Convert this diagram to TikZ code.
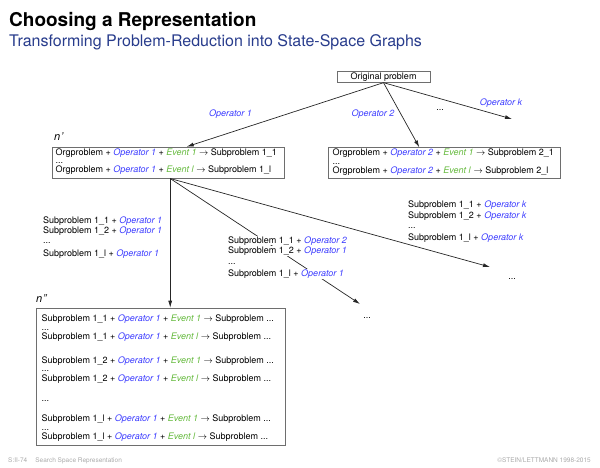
\documentclass[tikz,border=0pt]{standalone}
\usepackage{fontspec}
\setmainfont{TeX Gyre Heros}
\usetikzlibrary{arrows.meta,calc}
\definecolor{opblue}{RGB}{60,60,255}
\definecolor{evgreen}{RGB}{100,185,60}
\definecolor{subblue}{RGB}{40,60,140}
\definecolor{boxgray}{RGB}{110,110,110}
\definecolor{footgray}{RGB}{170,170,170}
\newcommand{\opr}[1]{\textcolor{opblue}{\textit{Operator #1}}}
\newcommand{\evt}[1]{\textcolor{evgreen}{\textit{Event #1}}}
\newcommand{\toarr}{$\rightarrow$}
\begin{document}
\begin{tikzpicture}[x=1pt,y=-1pt,
  every node/.style={font=\fontsize{9}{10}\selectfont, inner sep=0pt},
  txt/.style={anchor=base west, inner xsep=0.5pt, inner ysep=0pt},
  txtw/.style={txt, fill=white, inner ysep=0.5pt},
  box/.style={draw=boxgray, line width=0.8pt, anchor=north west, inner sep=0pt},
  arr/.style={draw=black!85, line width=0.7pt, -{Latex[length=7pt,width=4pt]}},
  oplabel/.style={anchor=base, text=opblue, font=\fontsize{9}{10}\selectfont\itshape}
]
\useasboundingbox (0,0) rectangle (600,467);

% titles
\node[anchor=base west, font=\fontsize{19}{22}\selectfont\bfseries] (title) at (9,26) {Choosing a Representation};
\node[anchor=base west, font=\fontsize{16}{19}\selectfont, text=subblue] (subtitle) at (9,46) {Transforming Problem-Reduction into State-Space Graphs};

% boxes
\node[box, anchor=center, minimum width=93pt, minimum height=10.5pt] (orig) at (383.5,77) {Original problem};
\node[box, minimum width=232.6pt, minimum height=31pt] (np) at (51.7,146.7) {};
\node[box, minimum width=231.7pt, minimum height=31pt] (bb) at (328.3,147.3) {};
\node[box, minimum width=249pt, minimum height=137.3pt] (npp) at (36,307.7) {};

% coordinates
\coordinate (ek) at (512,119);
\coordinate (s) at ($(np.south west)+(118.5,0)$);
\coordinate (em) at (360,304);
\coordinate (er) at (490,267);

% connectors
\draw[arr] (orig.south) -- ($(np.north west)+(135,0)$);
\draw[arr] (orig.south) -- ($(bb.north west)+(91,0)$);
\draw[arr] (orig.south) -- (ek);
\draw[arr] (s) -- (s |- npp.north);
\draw[arr] (s) -- (em);
\draw[arr] (s) -- (er);

% operator labels
\node[oplabel] (l1) at (230.5,116.5) {Operator 1};
\node[oplabel] (l2) at (373,116.5) {Operator 2};
\node[oplabel] (lk) at (501,105) {Operator k};
\node[anchor=base] (ldots) at (440,110) {...};

% n' labels
\node[anchor=base west, font=\fontsize{11}{12}\selectfont\itshape] (nplab) at (54,140) {n\kern0.5pt'};
\node[anchor=base west, font=\fontsize{11}{12}\selectfont\itshape] (npplab) at (36,302) {n\kern0.5pt''};

% n' box text
\node[txt] (a1) at (55,155) {Orgproblem + \opr{1} + \evt{1} \toarr{} Subproblem 1\_1};
\node[txt] (a2) at (55,163.5) {...};
\node[txt] (a3) at (55,172.5) {Orgproblem + \opr{1} + \evt{l} \toarr{} Subproblem 1\_l};

% second box text
\node[txt] (b1) at (332,155.5) {Orgproblem + \opr{2} + \evt{1} \toarr{} Subproblem 2\_1};
\node[txt] (b2) at (332,164) {...};
\node[txt] (b3) at (332,173) {Orgproblem + \opr{2} + \evt{l} \toarr{} Subproblem 2\_l};

% left group
\node[txt] (c1) at (42.5,223) {Subproblem 1\_1 + \opr{1}};
\node[txt] (c2) at (42.5,233) {Subproblem 1\_2 + \opr{1}};
\node[txt] (c3) at (42.5,243.5) {...};
\node[txt] (c4) at (42.5,256) {Subproblem 1\_l + \opr{1}};

% middle group
\node[txtw] (d1) at (227.3,243) {Subproblem 1\_1 + \opr{2}};
\node[txtw] (d2) at (227.3,253.5) {Subproblem 1\_2 + \opr{1}};
\node[txt] (d3) at (227.3,264) {...};
\node[txtw] (d4) at (227.3,276.5) {Subproblem 1\_l + \opr{1}};
\node[anchor=base] (mdots) at (367,318) {...};

% right group
\node[txt] (e1) at (407.3,207) {Subproblem 1\_1 + \opr{k}};
\node[txt] (e2) at (407.3,218) {Subproblem 1\_2 + \opr{k}};
\node[txt] (e3) at (407.3,228.5) {...};
\node[txt] (e4) at (407.3,240) {Subproblem 1\_l + \opr{k}};
\node[anchor=base] (rdots) at (512,279) {...};

% n'' box text
\node[txt] (f1) at (41,321.5) {Subproblem 1\_1 + \opr{1} + \evt{1} \toarr{} Subproblem ...};
\node[txt] (f2) at (41,330) {...};
\node[txt] (f3) at (41,339) {Subproblem 1\_1 + \opr{1} + \evt{l} \toarr{} Subproblem ...};
\node[txt] (f4) at (41,363) {Subproblem 1\_2 + \opr{1} + \evt{1} \toarr{} Subproblem ...};
\node[txt] (f5) at (41,371.5) {...};
\node[txt] (f6) at (41,381) {Subproblem 1\_2 + \opr{1} + \evt{l} \toarr{} Subproblem ...};
\node[txt] (f7) at (41,401) {...};
\node[txt] (f8) at (41,421) {Subproblem 1\_l + \opr{1} + \evt{1} \toarr{} Subproblem ...};
\node[txt] (f9) at (41,430) {...};
\node[txt] (f10) at (41,439) {Subproblem 1\_l + \opr{1} + \evt{l} \toarr{} Subproblem ...};

% footer
\node[anchor=base west, font=\fontsize{6.5}{7.5}\selectfont, text=footgray] (foot1) at (8,462) {S:II-74\hspace{8pt}Search Space Representation};
\node[anchor=base east, font=\fontsize{6.5}{7.5}\selectfont, text=footgray] (foot2) at (591,462) {\textcopyright STEIN/LETTMANN 1998-2015};
\end{tikzpicture}
\end{document}
